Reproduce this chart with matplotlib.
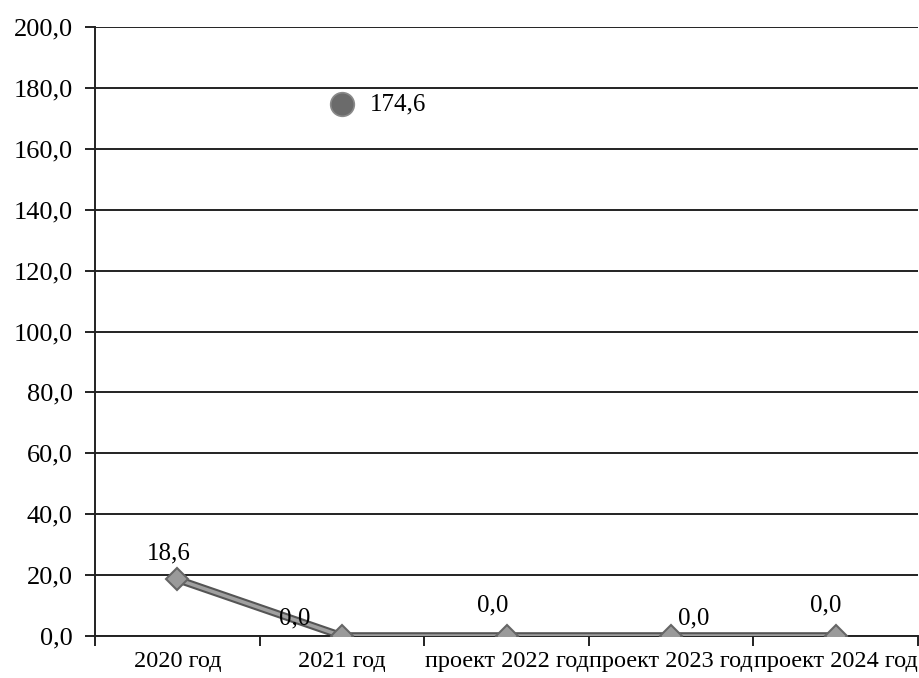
import matplotlib.pyplot as plt
import numpy as np

# ----- Data -----
categories = ["2020 год", "2021 год", "проект 2022 год", "проект 2023 год", "проект 2024 год"]
line_values = [18.6, 0.0, 0.0, 0.0, 0.0]
point_category = 1
point_value = 174.6
y_ticks = np.arange(0, 201, 20)

def fmt(v):
    return f"{v:.1f}".replace(".", ",")

plt.rcParams["font.family"] = ["Liberation Serif", "DejaVu Serif"]

fig = plt.figure(figsize=(9.19, 6.78), dpi=100)
ax = fig.add_axes([95 / 919, 42 / 678, 823 / 919, 609 / 678])

x = np.arange(len(categories))

# gridlines
for v in y_ticks:
    ax.axhline(v, color="#222222", lw=1.4, zorder=1)

# line with double-edge look
ax.plot(x, line_values, color="#555555", lw=5.5, zorder=2, solid_capstyle="round")
ax.plot(x, line_values, color="#a0a0a0", lw=2.5, zorder=3, solid_capstyle="round")
ax.plot(x, line_values, ls="none", marker="D", ms=11, mfc="#9a9a9a", mec="#666666",
        mew=1.5, zorder=4)

# separate point
ax.plot([point_category], [point_value], ls="none", marker="o", ms=17,
        mfc="#6b6b6b", mec="#8a8a8a", mew=1.2, zorder=4)
ax.annotate(fmt(point_value), (point_category, point_value), xytext=(20, 0),
            textcoords="offset points", ha="left", va="center", fontsize=18)

# data labels
offsets = [(-6, 11), (-34, 5), (-10, 14), (16, 5), (-7, 14)]
for i, v in enumerate(line_values):
    dx, dy = offsets[i]
    ax.annotate(fmt(v), (x[i], v), xytext=(dx, dy), textcoords="offset points",
                ha="center", va="bottom", fontsize=18)

ax.set_xlim(-0.5, len(categories) - 0.5)
ax.set_ylim(0, 200)
ax.set_yticks(y_ticks)
ax.set_yticklabels([fmt(v) for v in y_ticks], fontsize=19)

ax.set_xticks(x)
ax.set_xticklabels(categories, fontsize=17.5)
ax.tick_params(axis="x", length=0, pad=11)
ax.set_xticks(np.arange(-0.5, len(categories), 1), minor=True)
ax.tick_params(axis="x", which="minor", length=7, width=1.4, direction="out", color="#222222")
ax.tick_params(axis="y", length=7, width=1.4, color="#222222", pad=9)

for s in ["top", "right"]:
    ax.spines[s].set_visible(False)
ax.spines["left"].set_linewidth(1.4)
ax.spines["bottom"].set_linewidth(1.4)
ax.spines["left"].set_color("#222222")
ax.spines["bottom"].set_color("#222222")

fig.savefig("out.png", dpi=100)
